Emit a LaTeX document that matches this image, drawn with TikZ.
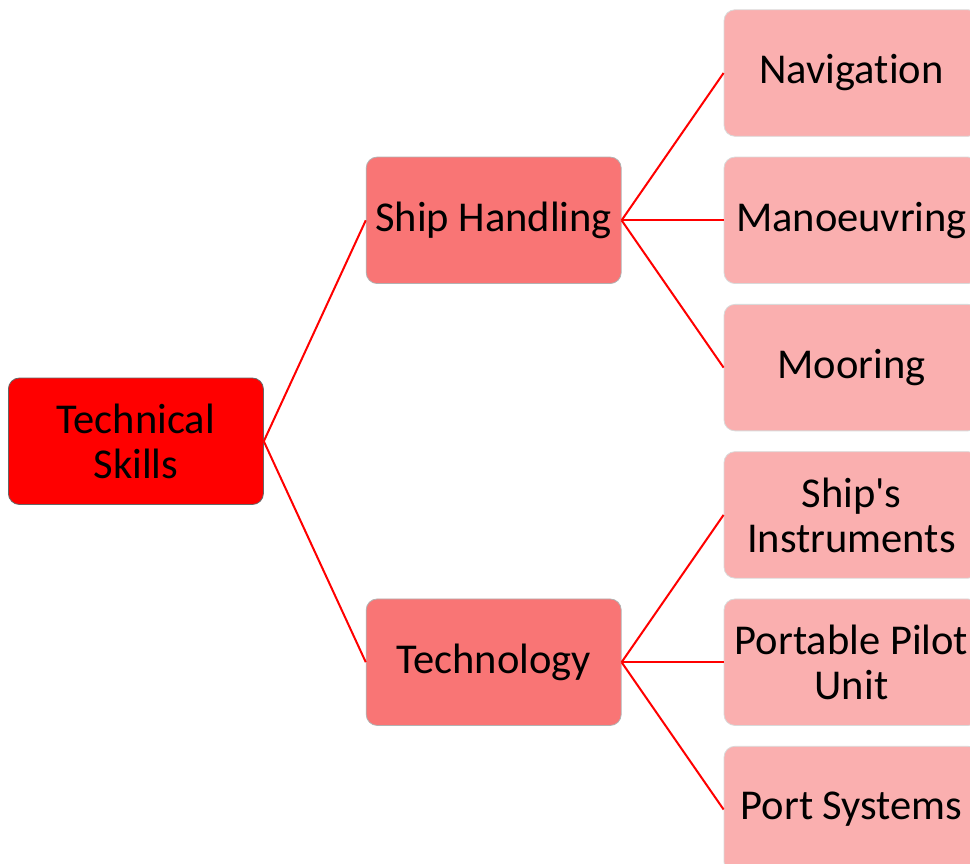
\documentclass[tikz,border=0pt]{standalone}
\usepackage{fontspec}
\setmainfont{Carlito}[Ligatures=NoCommon]
\usetikzlibrary{positioning,calc}

\definecolor{rootred}{RGB}{255,0,0}
\definecolor{midred}{RGB}{249,117,117}
\definecolor{leafred}{RGB}{250,175,175}

\begin{document}
\begin{tikzpicture}[x=1pt,y=-1pt,
    skillbox/.style={rectangle, rounded corners=11pt, draw, line width=0.8pt, minimum width=255pt, minimum height=126.5pt, inner sep=0pt, align=center, font=\fontsize{42.5}{45}\selectfont},
    rootbox/.style={skillbox, fill=rootred, draw=black!60},
    midbox/.style={skillbox, fill=midred, draw=black!30},
    leafbox/.style={skillbox, fill=leafred, draw=black!15},
    branch/.style={draw=red, line width=2pt}]
    \useasboundingbox (0,0) rectangle (970,863);

    % Leaves
    \node[leafbox] (navigation) at (851.5,73) {Navigation};
    \node[leafbox, below=20pt of navigation] (manoeuvring) {Manoeuvring};
    \node[leafbox, below=20pt of manoeuvring] (mooring) {Mooring};
    \node[leafbox, below=20pt of mooring] (instruments) {Ship\textquotesingle s\\Instruments};
    \node[leafbox, below=20pt of instruments] (pilot_unit) {Portable Pilot\\Unit};
    \node[leafbox, below=20pt of pilot_unit] (port_systems) {Port Systems};

    % Branches
    \node[midbox, left=102pt of manoeuvring] (ship_handling) {Ship Handling};
    \node[midbox, left=102pt of pilot_unit] (technology) {Technology};

    % Root
    \coordinate (split) at ($(ship_handling.west)!0.5!(technology.west)$);
    \node[rootbox, left=102pt of split] (technical_skills) {Technical\\Skills};

    % Connectors
    \draw[branch] (technical_skills.east) -- (ship_handling.west);
    \draw[branch] (technical_skills.east) -- (technology.west);
    \draw[branch] (ship_handling.east) -- (navigation.west);
    \draw[branch] (ship_handling.east) -- (manoeuvring.west);
    \draw[branch] (ship_handling.east) -- (mooring.west);
    \draw[branch] (technology.east) -- (instruments.west);
    \draw[branch] (technology.east) -- (pilot_unit.west);
    \draw[branch] (technology.east) -- (port_systems.west);
\end{tikzpicture}
\end{document}
